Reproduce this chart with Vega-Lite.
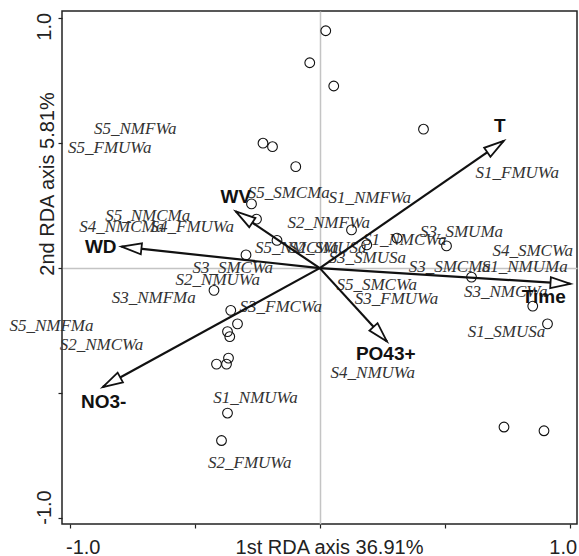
{
  "$schema": "https://vega.github.io/schema/vega-lite/v6.json",
  "width": 515,
  "height": 513,
  "autosize": {"type": "none"},
  "padding": {"left": 62, "top": 11, "right": 2, "bottom": 32},
  "background": "white",
  "config": {"view": {"stroke": "#222", "strokeWidth": 1.5}},
  "datasets": {
    "sites": [
      {"x": 0.024, "y": 0.950}, {"x": -0.040, "y": 0.822}, {"x": 0.056, "y": 0.729}, {"x": 0.415, "y": 0.556},
      {"x": -0.227, "y": 0.500}, {"x": -0.189, "y": 0.486}, {"x": -0.096, "y": 0.406}, {"x": -0.273, "y": 0.257},
      {"x": -0.253, "y": 0.196}, {"x": -0.171, "y": 0.111}, {"x": -0.295, "y": 0.053}, {"x": -0.423, "y": -0.089},
      {"x": -0.356, "y": -0.169}, {"x": 0.127, "y": 0.153}, {"x": 0.309, "y": 0.120}, {"x": 0.507, "y": 0.089},
      {"x": 0.607, "y": -0.036}, {"x": 0.852, "y": -0.152}, {"x": 0.911, "y": -0.223}, {"x": 0.737, "y": -0.636},
      {"x": 0.897, "y": -0.651}, {"x": -0.329, "y": -0.223}, {"x": -0.369, "y": -0.254}, {"x": -0.360, "y": -0.274},
      {"x": -0.365, "y": -0.360}, {"x": -0.413, "y": -0.384}, {"x": -0.373, "y": -0.384}, {"x": -0.369, "y": -0.580},
      {"x": -0.393, "y": -0.690}, {"x": 0.188, "y": 0.093}
    ],
    "labs": [
      {"name": "S5_NMFWa", "x": -0.738, "y": 0.557},
      {"name": "S5_FMUWa", "x": -0.840, "y": 0.482},
      {"name": "S1_FMUWa", "x": 0.790, "y": 0.382},
      {"name": "S5_SMCMa", "x": -0.124, "y": 0.300},
      {"name": "S1_NMFWa", "x": 0.200, "y": 0.280},
      {"name": "S2_NMFWa", "x": 0.036, "y": 0.180},
      {"name": "S3_SMUMa", "x": 0.567, "y": 0.144},
      {"name": "S1_NMCWa", "x": 0.340, "y": 0.113},
      {"name": "S4_SMCWa", "x": 0.852, "y": 0.069},
      {"name": "S5_NMCWa", "x": -0.092, "y": 0.080},
      {"name": "S2_SMUSa", "x": 0.032, "y": 0.081},
      {"name": "S3_SMUSa", "x": 0.190, "y": 0.040},
      {"name": "S3_SMCMa", "x": 0.520, "y": 0.004},
      {"name": "S1_NMUMa", "x": 0.820, "y": 0.006},
      {"name": "S5_SMCWa", "x": 0.228, "y": -0.067},
      {"name": "S3_FMUWa", "x": 0.307, "y": -0.122},
      {"name": "S3_NMCWa", "x": 0.744, "y": -0.095},
      {"name": "S1_SMUSa", "x": 0.747, "y": -0.256},
      {"name": "S4_NMUWa", "x": 0.212, "y": -0.420},
      {"name": "S5_NMCMa", "x": -0.688, "y": 0.209},
      {"name": "S4_NMCMa", "x": -0.792, "y": 0.166},
      {"name": "S4_FMUWa", "x": -0.510, "y": 0.166},
      {"name": "S3_SMCWa", "x": -0.348, "y": 0.000},
      {"name": "S2_NMUWa", "x": -0.408, "y": -0.047},
      {"name": "S3_NMFMa", "x": -0.664, "y": -0.120},
      {"name": "S3_FMCWa", "x": -0.156, "y": -0.154},
      {"name": "S5_NMFMa", "x": -1.073, "y": -0.231},
      {"name": "S2_NMCWa", "x": -0.873, "y": -0.307},
      {"name": "S1_NMUWa", "x": -0.257, "y": -0.518},
      {"name": "S2_FMUWa", "x": -0.280, "y": -0.780}
    ],
    "env": [
      {"name": "T", "x": 0.736, "y": 0.509},
      {"name": "Time", "x": 1.003, "y": -0.063},
      {"name": "PO43+", "x": 0.269, "y": -0.294},
      {"name": "NO3-", "x": -0.868, "y": -0.476},
      {"name": "WD", "x": -0.793, "y": 0.086},
      {"name": "WV", "x": -0.336, "y": 0.227}
    ],
    "envlab": [
      {"name": "T", "x": 0.720, "y": 0.569},
      {"name": "Time", "x": 0.896, "y": -0.115},
      {"name": "PO43+", "x": 0.264, "y": -0.343},
      {"name": "NO3-", "x": -0.864, "y": -0.535},
      {"name": "WD", "x": -0.876, "y": 0.085},
      {"name": "WV", "x": -0.336, "y": 0.285}
    ]
  },
  "encoding": {
    "x": {
      "field": "x", "type": "quantitative",
      "scale": {"domain": [-1.031, 1.029], "nice": false, "zero": false},
      "axis": {
        "values": [-1, -0.5, 0, 0.5, 1],
        "title": "1st RDA axis 36.91%",
        "labelExpr": "datum.value == -1 ? '-1.0' : datum.value == 1 ? '1.0' : ''",
        "domain": false,
        "tickSize": 4, "tickColor": "#222", "tickWidth": 1.2,
        "labelFont": "Liberation Sans", "labelFontSize": 20, "labelColor": "#222",
        "labelBaseline": "alphabetic", "labelAlign": "center", "labelPadding": 25,
        "labelOffset": {"condition": {"test": "datum.value < 0", "value": 13}, "value": -7},
        "labelFlush": false, "labelOverlap": false,
        "titleFont": "Liberation Sans", "titleFontSize": 20, "titleFontWeight": "normal", "titleColor": "#222",
        "titleX": 267, "titleY": 29, "titleBaseline": "alphabetic", "titleAlign": "center", "titleAnchor": null,
        "grid": true, "gridColor": "#c4c4c4", "gridWidth": 1.5,
        "gridOpacity": {"condition": {"test": "datum.value === 0", "value": 1}, "value": 0}
      }
    },
    "y": {
      "field": "y", "type": "quantitative",
      "scale": {"domain": [-1.024, 1.029], "nice": false, "zero": false},
      "axis": {
        "values": [-1, -0.5, 0, 0.5, 1],
        "title": "2nd RDA axis 5.81%",
        "labelExpr": "datum.value == -1 ? '-1.0' : datum.value == 1 ? '1.0' : ''",
        "domain": false,
        "tickSize": 4, "tickColor": "#222", "tickWidth": 1.2,
        "labelFont": "Liberation Sans", "labelFontSize": 20, "labelColor": "#222",
        "labelAngle": 270, "labelBaseline": "alphabetic", "labelAlign": "center", "labelPadding": 8,
        "labelOffset": {"condition": {"test": "datum.value > 0", "value": 8}, "value": -11},
        "labelFlush": false, "labelOverlap": false,
        "titleFont": "Liberation Sans", "titleFontSize": 20, "titleFontWeight": "normal", "titleColor": "#222",
        "titleAngle": 270, "titleX": -9, "titleY": 172.5, "titleBaseline": "alphabetic", "titleAlign": "center", "titleAnchor": null,
        "grid": true, "gridColor": "#c4c4c4", "gridWidth": 1.5,
        "gridOpacity": {"condition": {"test": "datum.value === 0", "value": 1}, "value": 0}
      }
    }
  },
  "layer": [
    {
      "data": {"name": "labs"},
      "mark": {"type": "text", "font": "Liberation Serif", "fontStyle": "italic", "fontSize": 17, "color": "#333", "align": "center", "baseline": "middle"},
      "encoding": {"text": {"field": "name", "type": "nominal"}}
    },
    {
      "data": {"name": "sites"},
      "mark": {"type": "point", "shape": "circle", "filled": false, "size": 95, "stroke": "#111", "strokeWidth": 1.1, "opacity": 1}
    },
    {
      "data": {"name": "env"},
      "mark": {"type": "rule", "color": "#111", "strokeWidth": 2.2},
      "encoding": {"x2": {"datum": 0}, "y2": {"datum": 0}}
    },
    {
      "data": {"name": "env"},
      "transform": [{"calculate": "atan2(datum.x, datum.y) * 180 / PI", "as": "ang"}],
      "mark": {"type": "point", "shape": "M0,0L-1.1,4L1.1,4Z", "filled": true, "fill": "white", "stroke": "#111", "strokeWidth": 1.8, "size": 100, "opacity": 1},
      "encoding": {"angle": {"field": "ang", "type": "quantitative", "scale": null}}
    },
    {
      "data": {"name": "envlab"},
      "mark": {"type": "text", "font": "Liberation Sans", "fontWeight": "bold", "fontSize": 19, "color": "#111", "align": "center", "baseline": "middle"},
      "encoding": {"text": {"field": "name", "type": "nominal"}}
    }
  ]
}
